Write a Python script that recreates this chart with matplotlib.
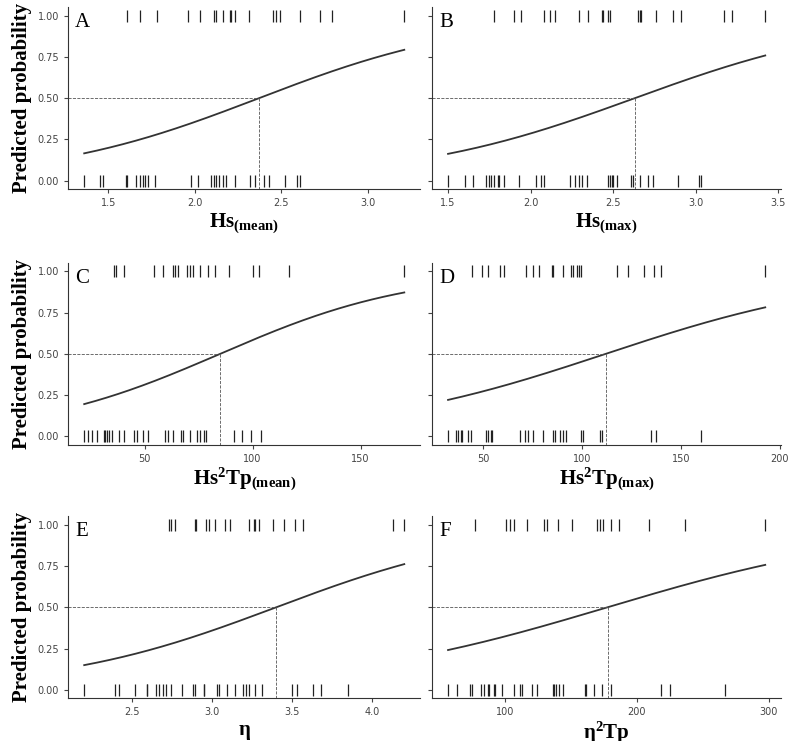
import numpy as np
import matplotlib
matplotlib.use("Agg")
import matplotlib.pyplot as plt

plt.rcParams["mathtext.fontset"] = "custom"
plt.rcParams["mathtext.rm"] = "Liberation Serif"
plt.rcParams["mathtext.bf"] = "Liberation Serif:bold"
plt.rcParams["mathtext.it"] = "Liberation Serif:italic:bold"

letters = ["A", "B", "C", "D", "E", "F"]
xlabels = [r"Hs$_{\mathbf{(mean)}}$", r"Hs$_{\mathbf{(max)}}$",
           r"Hs$^{\mathbf{2}}$Tp$_{\mathbf{(mean)}}$", r"Hs$^{\mathbf{2}}$Tp$_{\mathbf{(max)}}$",
           "η", "η$^{\\mathbf{2}}$Tp"]
xticks = [[1.5, 2.0, 2.5, 3.0], [1.5, 2.0, 2.5, 3.0, 3.5], [50, 100, 150],
          [50, 100, 150, 200], [2.5, 3.0, 3.5, 4.0], [100, 200, 300]]
xticklabels = [["1.5", "2.0", "2.5", "3.0"], ["1.5", "2.0", "2.5", "3.0", "3.5"],
               ["50", "100", "150"], ["50", "100", "150", "200"],
               ["2.5", "3.0", "3.5", "4.0"], ["100", "200", "300"]]

# x where predicted probability = 0.5, and logistic slope
x50 = [2.37, 2.63, 85, 112, 3.40, 178]
slope = [1.6, 1.45, 0.0225, 0.0158, 1.45, 0.0095]

rug1_A = [1.61, 1.68, 1.78, 1.96, 2.03, 2.11, 2.12, 2.16, 2.20, 2.21, 2.23, 2.31, 2.45, 2.47, 2.49, 2.61, 2.72, 2.79, 3.21]
rug0_A = [1.36, 1.45, 1.47, 1.60, 1.61, 1.66, 1.68, 1.70, 1.71, 1.73, 1.77, 1.98, 2.02, 2.09, 2.11, 2.12, 2.14, 2.16, 2.18, 2.23, 2.32, 2.35, 2.40, 2.43, 2.52, 2.59, 2.61]
rug1_B = [1.78, 1.90, 1.94, 2.08, 2.12, 2.15, 2.29, 2.35, 2.43, 2.44, 2.47, 2.48, 2.65, 2.66, 2.67, 2.76, 2.86, 2.91, 3.17, 3.22, 3.42]
rug0_B = [1.50, 1.60, 1.65, 1.73, 1.75, 1.76, 1.78, 1.80, 1.81, 1.84, 1.93, 2.03, 2.06, 2.08, 2.24, 2.27, 2.29, 2.31, 2.34, 2.47, 2.48, 2.49, 2.50, 2.52, 2.61, 2.62, 2.66, 2.71, 2.74, 2.89, 3.02, 3.03]
rug1_C = [35.8, 37.0, 40.4, 54.6, 58.7, 63.0, 64.1, 65.6, 69.5, 71.0, 72.5, 75.6, 79.3, 82.4, 89.2, 100.4, 103.0, 116.7, 170.2]
rug0_C = [22.1, 24.0, 25.8, 28.2, 31.2, 31.9, 32.7, 33.8, 35.0, 38.1, 40.4, 45.0, 46.5, 49.5, 51.8, 59.5, 61.0, 63.3, 67.1, 67.9, 70.9, 74.4, 75.5, 77.4, 78.5, 91.2, 94.9, 99.2, 104.0]
rug1_D = [44.5, 49.5, 52.5, 58.4, 60.7, 71.8, 75.1, 78.4, 84.7, 85.5, 90.5, 94.3, 95.5, 97.2, 98.5, 99.3, 117.7, 123.2, 131.6, 136.3, 139.9, 192.7]
rug0_D = [32.2, 36.1, 37.3, 38.6, 39.4, 42.3, 43.6, 51.2, 52.5, 53.7, 54.5, 68.4, 71.3, 72.6, 75.1, 80.2, 85.5, 86.4, 88.9, 90.2, 91.9, 99.4, 100.3, 109.0, 110.2, 134.9, 137.4, 160.1]
rug1_E = [2.73, 2.74, 2.77, 2.89, 2.90, 2.96, 2.98, 3.02, 3.08, 3.11, 3.23, 3.26, 3.27, 3.29, 3.38, 3.45, 3.52, 3.57, 4.13, 4.20]
rug0_E = [2.20, 2.39, 2.42, 2.52, 2.59, 2.59, 2.65, 2.67, 2.69, 2.71, 2.74, 2.81, 2.88, 2.89, 2.95, 2.95, 3.03, 3.04, 3.09, 3.14, 3.19, 3.21, 3.23, 3.27, 3.31, 3.50, 3.53, 3.63, 3.68, 3.85]
rug1_F = [77.9, 101, 104.3, 106.8, 116.8, 130.1, 131.9, 140.2, 150.7, 170.3, 172.0, 174.5, 180.8, 186.6, 209.7, 236.8, 297.5]
rug0_F = [57.1, 64.1, 73.7, 74.9, 82.4, 84.7, 87.2, 88.5, 91.7, 93.0, 98.0, 107.3, 111.3, 113.0, 120.6, 124.3, 136.4, 137.4, 138.9, 141.4, 143.9, 160.7, 162.0, 167.8, 174.0, 180.8, 218.4, 225.2, 266.9]

rug1 = [rug1_A, rug1_B, rug1_C, rug1_D, rug1_E, rug1_F]
rug0 = [rug0_A, rug0_B, rug0_C, rug0_D, rug0_E, rug0_F]

fig = plt.figure(figsize=(7.93, 7.41), dpi=100)
lefts = [0.086, 0.545]
bottoms = [0.745, 0.400, 0.058]
w = [0.444, 0.44]
h = 0.245
serif = "Liberation Serif"

for i in range(6):
    r, c = divmod(i, 2)
    ax = fig.add_axes([lefts[c], bottoms[r], w[c], h])
    allx = np.array(rug0[i] + rug1[i])
    xs = np.linspace(allx.min(), allx.max(), 200)
    p = 1 / (1 + np.exp(-slope[i] * (xs - x50[i])))
    ax.plot(xs, p, color="#333333", lw=1.3)
    ax.plot(rug1[i], np.ones(len(rug1[i])), ls="none", marker="|", ms=9, mew=0.9, color="#222222")
    ax.plot(rug0[i], np.zeros(len(rug0[i])), ls="none", marker="|", ms=9, mew=0.9, color="#222222")
    span = allx.max() - allx.min()
    xmin = allx.min() - 0.05 * span
    xmax = allx.max() + 0.05 * span
    ax.set_xlim(xmin, xmax)
    ax.set_ylim(-0.05, 1.05)
    ax.plot([xmin, x50[i]], [0.5, 0.5], ls="--", lw=0.6, color="#555555")
    ax.plot([x50[i], x50[i]], [0.5, -0.05], ls="--", lw=0.6, color="#555555")
    ax.set_xticks(xticks[i])
    ax.set_xticklabels(xticklabels[i])
    ax.set_yticks([0, 0.25, 0.5, 0.75, 1.0])
    if c == 0:
        ax.set_yticklabels(["0.00", "0.25", "0.50", "0.75", "1.00"])
        ax.set_ylabel("Predicted probability", fontsize=15, fontweight="bold", family=serif)
    else:
        ax.set_yticklabels([])
    ax.tick_params(labelsize=7, colors="#444444", length=3)
    for s in ["top", "right"]:
        ax.spines[s].set_visible(False)
    for s in ["left", "bottom"]:
        ax.spines[s].set_color("#333333")
    ax.set_xlabel(xlabels[i], fontsize=15, fontweight="bold", family=serif, labelpad=2)
    ax.text(0.02, 0.97, letters[i], transform=ax.transAxes, fontsize=15, family=serif, va="top")

fig.savefig("out.png", dpi=100)
